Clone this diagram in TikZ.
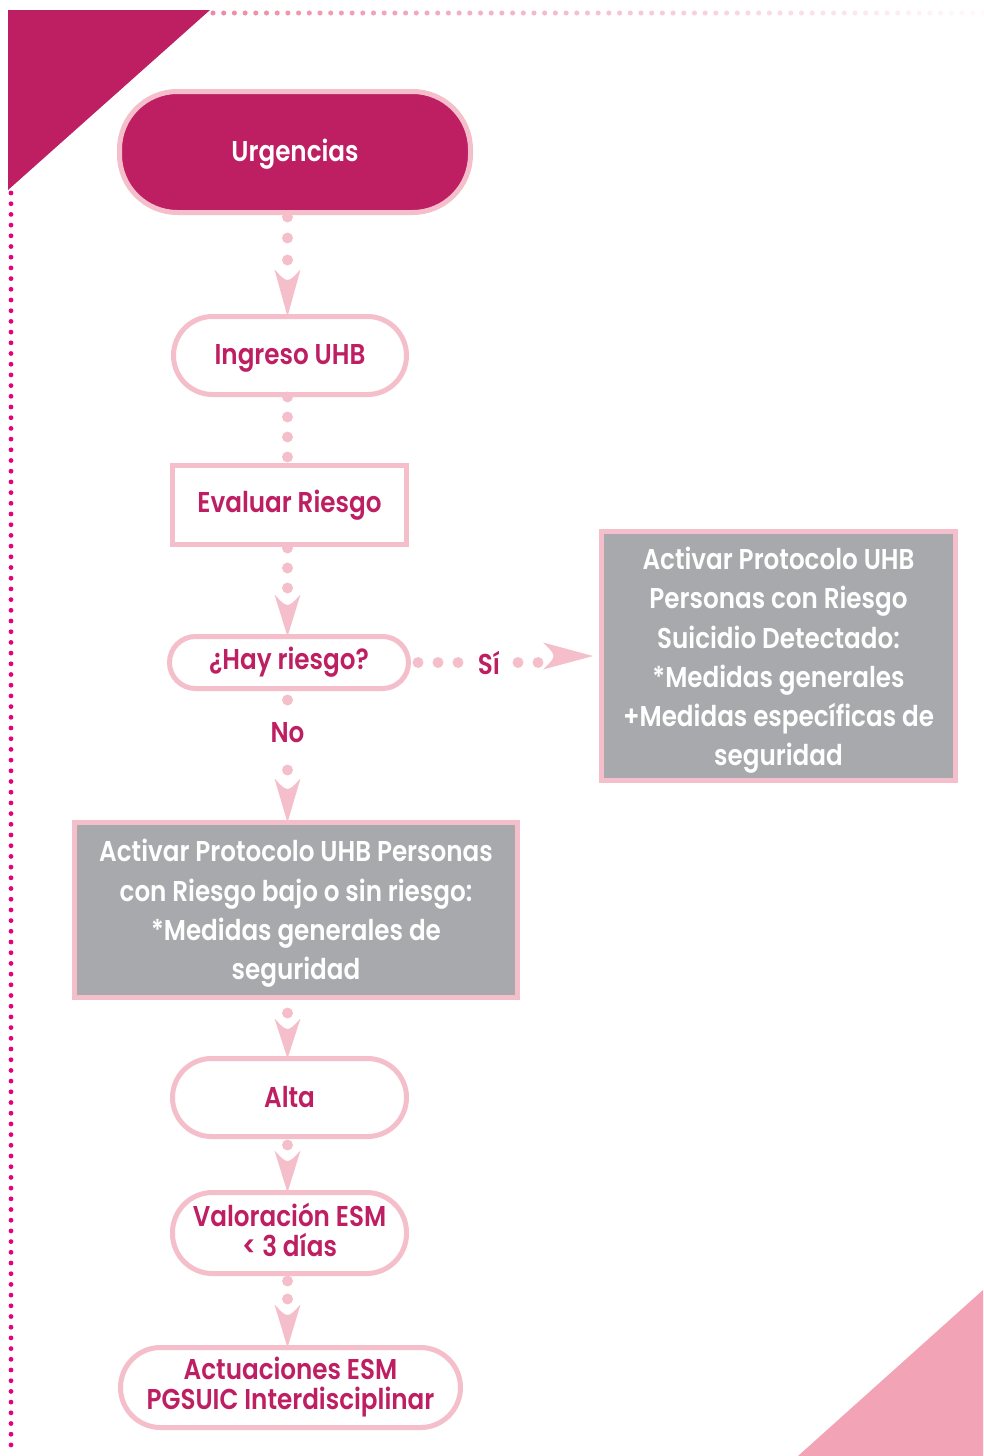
\documentclass[tikz,border=0pt]{standalone}
\usepackage{fontspec}
\setmainfont{Poppins}[FakeStretch=0.86, BoldFont={Poppins SemiBold}, BoldFeatures={FakeStretch=0.86}]
\usetikzlibrary{calc}
\definecolor{mag}{HTML}{BE1E62}
\definecolor{pinkb}{HTML}{F5BECB}
\definecolor{grayf}{HTML}{A7A9AC}
\definecolor{trip}{HTML}{F2A3B5}
\definecolor{leftd}{HTML}{E5007D}
\definecolor{topd}{HTML}{EE8AA6}
\def\u{0.75pt}
\newcommand\tup[1]{\rule{0pt}{#1}}
\tikzset{
  base/.style={draw=pinkb, line width=3.75pt, outer sep=0pt, inner sep=0pt, align=center,
    font=\bfseries\fontsize{21.5}{22.5}\selectfont},
  stad/.style={base, fill=white, text=mag},
  grayb/.style={base, fill=grayf, text=white, font=\bfseries\fontsize{21.5}{29.4}\selectfont},
  lbl/.style={text=mag, font=\bfseries\fontsize{21.5}{22.5}\selectfont, inner sep=0pt},
  dotc/.style={fill=pinkb},
}
\newcommand\vhead[2]{\fill[pinkb, shift={#1}] (-13,-#2) .. controls (0,-#2+14) .. (13,-#2) -- (0,0) -- cycle;}
\begin{document}
\begin{tikzpicture}[x=0.75pt,y=-0.75pt]
\useasboundingbox (0,0) rectangle (983,1456);
\fill[white] (0,0) rectangle (983,1456);
% corner triangles
\fill[mag] (8,10) -- (210,10) -- (8,190) -- cycle;
\fill[trip] (983,1290) -- (983,1456) -- (798,1456) -- cycle;
% dotted frame
\foreach \i in {0,...,72}{
  \pgfmathsetmacro\xx{213+\i*10.7}
  \pgfmathtruncatemacro\m{max(4,100-\i*1.32)}
  \fill[topd!\m!white] (\xx,13) circle (1.9pt);
}
\foreach \i in {0,...,117}{
  \pgfmathsetmacro\yy{193+\i*10.7}
  \fill[leftd] (11,\yy) circle (1.8pt);
}
% nodes
\coordinate (col) at (287.5,0);
\node[stad, fill=mag, text=white, minimum width=351*\u, minimum height=121*\u, rounded corners=58*\u] (urg) at (295,152) {\tup{20pt}Urgencias};
\node[stad, minimum width=233*\u, minimum height=78*\u, rounded corners=39*\u] (ing) at (290,355.5) {\tup{20pt}Ingreso UHB};
\node[stad, minimum width=234*\u, minimum height=79*\u] (eva) at (289.5,505) {Evaluar Riesgo};
\node[stad, minimum width=239*\u, minimum height=52*\u, rounded corners=26*\u] (hay) at (289,662.5) {¿Hay riesgo?};
\node[grayb, minimum width=354*\u, minimum height=249*\u] (pa) at (778.5,656) {\tup{23.5pt}Activar Protocolo UHB\\Personas con Riesgo\\Suicidio Detectado:\\*Medidas generales\\+Medidas específicas de\\seguridad};
\node[grayb, minimum width=443*\u, minimum height=175*\u] (pb) at (296,910) {\tup{22pt}Activar Protocolo UHB Personas\\con Riesgo bajo o sin riesgo:\\*Medidas generales de\\seguridad};
\node[stad, minimum width=234*\u, minimum height=78*\u, rounded corners=39*\u] (alta) at (289.5,1097.5) {Alta};
\node[stad, minimum width=234*\u, minimum height=81*\u, rounded corners=40*\u] (val) at (289.5,1233) {Valoración ESM\\< 3 días\rule[-4.5pt]{0pt}{4.5pt}};
\node[stad, minimum width=340*\u, minimum height=80*\u, rounded corners=40*\u] (act) at (290.5,1387.5) {Actuaciones ESM\\PGSUIC Interdisciplinar};
% connector urg -> ing
\coordinate (s1) at (urg.south -| col);
\foreach \d in {4.5,25.5,47.5} \fill[dotc] ($(s1)+(0,\d)$) circle (4.1pt);
\vhead{(ing.north -| col)}{47}
% ing -> eva
\coordinate (s2) at (ing.south -| col);
\foreach \d in {2.5,22.5,42.5,62.5} \fill[dotc] ($(s2)+(0,\d)$) circle (4.1pt);
% eva -> hay
\coordinate (s3) at (eva.south -| col);
\foreach \d in {3.5,23.5,43.5} \fill[dotc] ($(s3)+(0,\d)$) circle (4.1pt);
\vhead{(hay.north -| col)}{42}
% hay -> pb (No)
\coordinate (s4) at (hay.south -| col);
\foreach \d in {11.5,81.5} \fill[dotc] ($(s4)+(0,\d)$) circle (4.1pt);
\node[lbl] (no) at ($(s4)+(0,44.5)$) {No};
\vhead{(pb.north -| col)}{44}
% hay -> pa (Si)
\coordinate (s5) at (hay.east);
\foreach \d in {9.5,29.5,49.5,109.5,129.5} \fill[dotc] ($(s5)+(\d,0)$) circle (4.1pt);
\node[lbl] (si) at ($(s5)+(80.5,0)$) {Sí};
\coordinate (t5) at ($(pa.west)+(-8.5,0)$);
\fill[pinkb, shift={(t5)}] (-50,-13.5) .. controls (-36,0) .. (-50,13.5) -- (0,0) -- cycle;
% pb -> alta
\coordinate (s6) at (pb.south -| col);
\fill[dotc] ($(s6)+(0,15.5)$) circle (4.1pt);
\vhead{(alta.north -| col)}{40}
% alta -> val
\coordinate (s7) at (alta.south -| col);
\fill[dotc] ($(s7)+(0,8.5)$) circle (4.1pt);
\vhead{(val.north -| col)}{42}
% val -> act
\coordinate (s8) at (val.south -| col);
\foreach \d in {7.5,25.5} \fill[dotc] ($(s8)+(0,\d)$) circle (4.1pt);
\vhead{(act.north -| col)}{43}
\end{tikzpicture}
\end{document}
